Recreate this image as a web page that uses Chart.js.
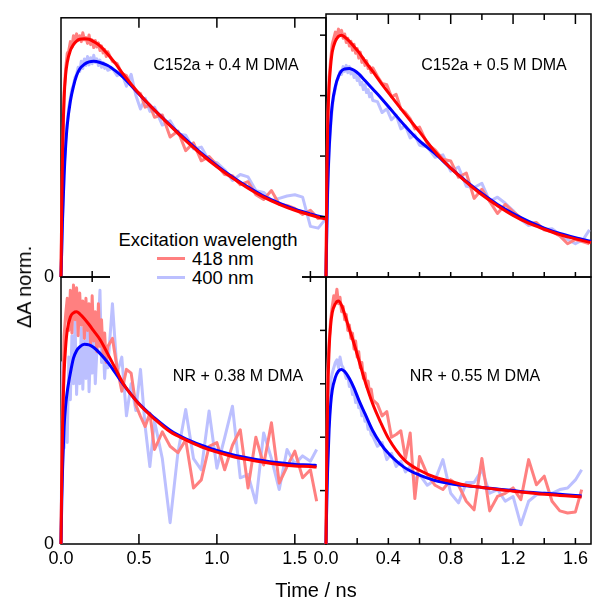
<!DOCTYPE html>
<html>
<head>
<meta charset="utf-8">
<title>Transient absorption kinetics</title>
<script src="https://cdn.jsdelivr.net/npm/chart.js@4.4.1/dist/chart.umd.min.js"></script>
<style>
  html, body { margin: 0; padding: 0; background: #fff; }
  #wrap { position: relative; width: 592px; height: 599px; overflow: hidden;
          font-family: "Liberation Sans", Arial, Helvetica, sans-serif; color: #000; }
  #wrap canvas { position: absolute; left: 0; top: 0; }
  .lbl { position: absolute; white-space: nowrap; line-height: 1; }
  .mid { transform: translateX(-50%); }
  .note { font-size: 16px; }
  #legend { position: absolute; left: 110px; top: 228px; width: 192px; height: 60px; background: #fff; }
  .swatch { position: absolute; left: 157px; width: 28px; height: 3px; }
</style>
</head>
<body>
<div id="wrap">
  <canvas id="pA" width="592" height="599"></canvas>
  <canvas id="pB" width="592" height="599"></canvas>
  <canvas id="pC" width="592" height="599"></canvas>
  <canvas id="pD" width="592" height="599"></canvas>

  <div class="lbl mid note" style="left:226px; top:57px;">C152a + 0.4 M DMA</div>
  <div class="lbl mid note" style="left:494px; top:57px;">C152a + 0.5 M DMA</div>
  <div class="lbl mid note" style="left:238px; top:368px;">NR + 0.38 M DMA</div>
  <div class="lbl mid note" style="left:475px; top:368px;">NR + 0.55 M DMA</div>

  <div id="legend"></div>
  <div class="lbl mid" style="left:208px; top:231px; font-size:18.5px;">Excitation wavelength</div>
  <div class="swatch" style="top:257px; background:#ff8080;"></div>
  <div class="lbl" style="left:192px; top:250px; font-size:18.5px;">418 nm</div>
  <div class="swatch" style="top:276px; background:#bcc0ff;"></div>
  <div class="lbl" style="left:192px; top:269px; font-size:18.5px;">400 nm</div>

  <div class="lbl mid" style="left:316px; top:580px; font-size:20px;">Time / ns</div>
  <div class="lbl" style="left:24px; top:287px; font-size:20px; transform: translate(-50%, -50%) rotate(-90deg);">ΔA norm.</div>
</div>

<script>
// time axes (ns)
const tFitTop = [0, 0.005, 0.01, 0.02, 0.03, 0.04, 0.06, 0.08, 0.10, 0.12,
                 0.15, 0.18, 0.21, 0.25, 0.30, 0.35, 0.40, 0.50, 0.60, 0.70,
                 0.80, 0.90, 1.00, 1.10, 1.20, 1.30, 1.40, 1.50, 1.60, 1.70];
const tFitBot = [0, 0.005, 0.01, 0.02, 0.03, 0.04, 0.06, 0.08, 0.10, 0.12,
                 0.15, 0.18, 0.21, 0.25, 0.30, 0.35, 0.40, 0.50, 0.60, 0.70,
                 0.80, 0.90, 1.00, 1.10, 1.20, 1.30, 1.40, 1.50, 1.60, 1.64];
const tRawTop = [0, 0.01, 0.02, 0.03, 0.04, 0.05, 0.06, 0.07, 0.08, 0.09,
                 0.10, 0.11, 0.12, 0.13, 0.14, 0.15, 0.16, 0.17, 0.18, 0.19,
                 0.20, 0.21, 0.22, 0.23, 0.24, 0.25, 0.26, 0.27, 0.28, 0.29,
                 0.30, 0.33, 0.36, 0.39, 0.42, 0.45, 0.48, 0.51, 0.54, 0.57,
                 0.60, 0.65, 0.70, 0.75, 0.80, 0.85, 0.90, 0.95, 1.00, 1.05,
                 1.10, 1.15, 1.20, 1.25, 1.30, 1.35, 1.40, 1.45, 1.50, 1.55,
                 1.60, 1.65, 1.69];
const tRawBot = [0, 0.01, 0.02, 0.03, 0.04, 0.05, 0.06, 0.07, 0.08, 0.09,
                 0.10, 0.11, 0.12, 0.13, 0.14, 0.15, 0.16, 0.17, 0.18, 0.19,
                 0.20, 0.21, 0.22, 0.23, 0.24, 0.25, 0.26, 0.27, 0.28, 0.29,
                 0.30, 0.33, 0.36, 0.39, 0.42, 0.45, 0.48, 0.51, 0.54, 0.57,
                 0.60, 0.65, 0.70, 0.75, 0.80, 0.85, 0.90, 0.95, 1.00, 1.05,
                 1.10, 1.15, 1.20, 1.25, 1.30, 1.35, 1.40, 1.45, 1.50, 1.55,
                 1.60, 1.64];

// tick labels
const xTicksLeft = [0, 0.5, 1.0, 1.5];
const xTicksRight = [0, 0.4, 0.8, 1.2, 1.6];
const xMinorRight = [0.2, 0.4, 0.6, 0.8, 1.0, 1.2, 1.4, 1.6];
const yTicksRight = [1, 2, 3, 4];

// C152a + 0.4 M DMA
const fitA418 = [0, 1.2, 2.1, 3.0, 3.4, 3.6, 3.8, 3.9, 3.96, 3.99,
                 4.0, 3.99, 3.95, 3.88, 3.74, 3.58, 3.40, 3.08, 2.80, 2.54,
                 2.29, 2.06, 1.85, 1.66, 1.49, 1.34, 1.22, 1.12, 1.04, 0.97];
const fitA400 = [0, 0.5, 1.0, 1.7, 2.2, 2.55, 2.95, 3.2, 3.38, 3.49,
                 3.57, 3.61, 3.62, 3.60, 3.55, 3.46, 3.35, 3.07, 2.80, 2.55,
                 2.31, 2.08, 1.87, 1.68, 1.51, 1.36, 1.24, 1.14, 1.06, 0.99];
const rawA418 = [0, 1.9, 3.1, 3.5, 3.75, 3.8, 3.95, 3.85, 4.05, 3.95,
                 4.08, 3.98, 4.05, 3.95, 4.1, 3.98, 4.02, 3.92, 4.06, 3.9,
                 3.98, 3.85, 3.97, 3.86, 3.93, 3.8, 3.88, 3.76, 3.82, 3.7,
                 3.78, 3.62, 3.58, 3.42, 3.38, 3.22, 3.12, 3.08, 2.85, 2.88,
                 2.68, 2.72, 2.35, 2.45, 2.12, 2.25, 1.95, 2.02, 1.88, 1.72,
                 1.70, 1.55, 1.60, 1.38, 1.30, 1.45, 1.22, 1.20, 1.15, 1.05,
                 1.12, 0.98, 1.0];
const rawA400 = [0, 0.9, 1.8, 2.3, 2.6, 2.85, 3.0, 3.15, 3.22, 3.35,
                 3.4, 3.52, 3.45, 3.62, 3.5, 3.66, 3.55, 3.7, 3.56, 3.68,
                 3.58, 3.72, 3.6, 3.66, 3.55, 3.64, 3.52, 3.6, 3.5, 3.56,
                 3.47, 3.5, 3.38, 3.42, 3.2, 3.4, 3.05, 2.82, 3.0, 2.78,
                 2.85, 2.55, 2.62, 2.4, 2.38, 2.15, 2.18, 1.95, 1.92, 1.8,
                 1.62, 1.72, 1.68, 1.45, 1.42, 1.28, 1.32, 1.36, 1.38, 1.34,
                 0.85, 0.82, 0.95];

// C152a + 0.5 M DMA
const fitB418 = [0, 1.5, 2.4, 3.15, 3.5, 3.72, 3.9, 3.98, 4.0, 3.97,
                 3.9, 3.81, 3.72, 3.57, 3.40, 3.22, 3.05, 2.72, 2.40, 2.07,
                 1.80, 1.57, 1.36, 1.18, 1.02, 0.89, 0.79, 0.70, 0.63, 0.57];
const fitB400 = [0, 0.8, 1.4, 2.1, 2.55, 2.85, 3.15, 3.32, 3.41, 3.44,
                 3.45, 3.42, 3.36, 3.25, 3.11, 2.97, 2.82, 2.52, 2.25, 2.04,
                 1.80, 1.58, 1.38, 1.20, 1.05, 0.92, 0.81, 0.72, 0.65, 0.59];
const rawB418 = [0, 2.5, 3.3, 3.6, 3.85, 3.95, 4.05, 3.98, 4.1, 4.0,
                 4.08, 3.95, 4.02, 3.88, 3.95, 3.82, 3.9, 3.75, 3.85, 3.7,
                 3.78, 3.62, 3.72, 3.55, 3.62, 3.5, 3.58, 3.45, 3.48, 3.38,
                 3.46, 3.32, 3.2, 3.18, 2.98, 3.02, 2.78, 2.72, 2.62, 2.45,
                 2.48, 2.2, 2.1, 1.95, 1.92, 1.65, 1.72, 1.3, 1.45, 1.25,
                 1.05, 1.2, 1.08, 0.98, 0.88, 0.9, 0.78, 0.75, 0.68, 0.55,
                 0.62, 0.58, 0.55];
const rawB400 = [0, 1.3, 2.1, 2.5, 2.8, 3.0, 3.12, 3.25, 3.3, 3.4,
                 3.35, 3.48, 3.4, 3.5, 3.38, 3.48, 3.36, 3.42, 3.3, 3.38,
                 3.25, 3.3, 3.18, 3.22, 3.1, 3.18, 3.05, 3.1, 2.98, 3.04,
                 2.92, 2.9, 2.72, 2.78, 2.6, 2.68, 2.45, 2.5, 2.3, 2.35,
                 2.18, 2.15, 1.98, 2.02, 1.75, 1.82, 1.5, 1.48, 1.55, 1.25,
                 1.32, 1.22, 1.1, 0.95, 0.85, 0.88, 0.78, 0.8, 0.7, 0.62,
                 0.55, 0.62, 0.78];

// NR + 0.38 M DMA
const fitC418 = [0, 1.3, 2.2, 3.2, 3.7, 4.0, 4.25, 4.33, 4.35, 4.31,
                 4.22, 4.11, 3.99, 3.83, 3.56, 3.28, 3.0, 2.62, 2.34, 2.10,
                 1.95, 1.82, 1.72, 1.64, 1.58, 1.53, 1.49, 1.46, 1.45, 1.44];
const fitC400 = [0, 0.8, 1.4, 2.2, 2.6, 2.85, 3.2, 3.48, 3.62, 3.69,
                 3.74, 3.73, 3.68, 3.57, 3.40, 3.20, 2.99, 2.63, 2.36, 2.13,
                 1.97, 1.85, 1.75, 1.67, 1.61, 1.56, 1.52, 1.49, 1.48, 1.47];
const rawC418 = [0, 2.6, 3.9, 4.3, 4.6, 4.0, 4.75, 3.95, 4.85, 4.2,
                 4.8, 3.9, 4.7, 4.1, 4.55, 3.85, 4.6, 4.0, 4.5, 3.75,
                 4.65, 3.8, 4.35, 3.6, 4.5, 3.7, 4.2, 3.55, 3.95, 3.4,
                 3.7, 3.85, 3.3, 2.86, 3.27, 3.2, 2.6, 2.39, 2.2, 2.45,
                 1.77, 2.1, 1.83, 1.71, 1.95, 1.05, 1.2, 1.83, 1.9, 1.39,
                 1.85, 2.14, 1.05, 2.0, 1.48, 2.27, 1.14, 1.45, 1.74, 1.24,
                 1.39, 0.8];
const rawC400 = [0, 3.4, 1.8, 2.6, 1.9, 3.5, 2.7, 3.9, 3.0, 4.2,
                 2.8, 3.6, 3.0, 4.05, 2.9, 3.8, 3.1, 4.3, 2.85, 3.7,
                 3.2, 3.95, 3.0, 3.6, 4.1, 4.75, 3.4, 3.8, 3.1, 3.6,
                 3.3, 4.5, 3.2, 3.5, 2.4, 3.0, 2.5, 3.27, 2.2, 1.45,
                 2.3, 1.6, 0.4, 1.71, 2.52, 1.6, 1.39, 2.49, 1.42, 1.99,
                 2.58, 1.24, 1.3, 0.77, 2.08, 1.6, 1.02, 1.77, 1.5, 1.65,
                 1.55, 1.77];

// NR + 0.55 M DMA
const fitD418 = [0, 1.6, 2.6, 3.65, 4.1, 4.33, 4.5, 4.55, 4.47, 4.3,
                 4.02, 3.75, 3.45, 3.05, 2.62, 2.28, 1.98, 1.58, 1.38, 1.25,
                 1.17, 1.10, 1.06, 1.02, 0.99, 0.96, 0.93, 0.91, 0.89, 0.88];
const fitD400 = [0, 0.8, 1.35, 2.15, 2.62, 2.88, 3.12, 3.24, 3.27, 3.23,
                 3.10, 2.92, 2.70, 2.44, 2.12, 1.88, 1.70, 1.44, 1.29, 1.19,
                 1.13, 1.09, 1.06, 1.03, 1.00, 0.97, 0.95, 0.93, 0.91, 0.90];
const rawD418 = [0, 3.2, 3.8, 4.2, 4.45, 4.65, 4.55, 4.77, 4.5, 4.62,
                 4.35, 4.45, 4.2, 4.3, 4.0, 4.1, 3.85, 3.95, 3.65, 3.8,
                 3.5, 3.6, 3.3, 3.4, 3.1, 3.2, 2.95, 3.05, 2.8, 2.9,
                 2.7, 2.62, 2.4, 2.48, 2.0, 2.05, 2.12, 1.6, 2.08, 0.85,
                 1.64, 1.3, 1.1, 1.02, 1.2, 1.1, 0.8, 0.64, 1.6, 0.62,
                 0.89, 0.95, 1.05, 0.83, 1.58, 1.11, 1.27, 0.8, 0.62, 0.58,
                 0.6, 1.02];
const rawD400 = [0, 1.6, 2.5, 3.05, 3.2, 3.3, 3.4, 3.45, 3.3, 3.5,
                 3.35, 3.3, 3.2, 3.1, 3.15, 2.95, 3.0, 2.8, 2.85, 2.65,
                 2.75, 2.55, 2.6, 2.4, 2.5, 2.3, 2.35, 2.15, 2.2, 2.05,
                 2.02, 1.83, 1.9, 1.58, 1.7, 1.45, 1.55, 1.35, 1.45, 1.2,
                 1.3, 1.1, 1.2, 1.58, 0.95, 0.77, 1.15, 1.15, 1.39, 0.95,
                 1.02, 0.8, 0.89, 0.36, 0.8, 0.92, 0.95, 0.95, 1.02, 1.05,
                 1.2, 1.39];

const FONT = '"Liberation Sans", Arial, Helvetica, sans-serif';
const W = 592, H = 599;

function pts(t, v) {
  return t.map((x, i) => ({ x: x, y: v[i] }));
}

// box around the plot area plus the little tick marks
const framePlugin = {
  id: 'frame',
  beforeDatasetsDraw(chart, args, opts) {
    const { ctx, chartArea: a, scales } = chart;
    ctx.save();
    ctx.strokeStyle = '#000';
    ctx.lineWidth = 1.5;
    ctx.strokeRect(a.left, a.top, a.right - a.left, a.bottom - a.top);
    (opts.marks || []).forEach(m => {
      m.values.forEach(v => {
        const len = (m.major && m.major.includes(v)) ? m.majorLen : m.len;
        ctx.beginPath();
        if (m.side === 'top') {
          const x = scales.x.getPixelForValue(v);
          ctx.moveTo(x, a.top);
          ctx.lineTo(x, a.top + len);
        } else if (m.side === 'bottom') {
          const x = scales.x.getPixelForValue(v);
          ctx.moveTo(x, a.bottom + (m.cross || 0));
          ctx.lineTo(x, a.bottom - len);
        } else {
          const y = scales.y.getPixelForValue(v);
          ctx.moveTo(a.left, y);
          ctx.lineTo(a.left - len, y);
        }
        ctx.stroke();
      });
    });
    ctx.restore();
  }
};

function makePanel(id, p) {
  const showX = !!p.xLabels;
  const showY = !!p.zeroLabel;
  const yW = 40, xH = 30;
  new Chart(document.getElementById(id), {
    type: 'line',
    data: {
      datasets: [
        { label: 'fit 418 nm', data: pts(p.tFit, p.fit418), borderColor: '#ff0000', borderWidth: 3, cubicInterpolationMode: 'monotone', clip: 3 },
        { label: 'fit 400 nm', data: pts(p.tFit, p.fit400), borderColor: '#0000ff', borderWidth: 3, cubicInterpolationMode: 'monotone', clip: 3 },
        { label: '418 nm', data: pts(p.tRaw, p.raw418), borderColor: '#ff8080', borderWidth: 3, clip: 3 },
        { label: '400 nm', data: pts(p.tRaw, p.raw400), borderColor: '#bcc0ff', borderWidth: 3, clip: 3 }
      ]
    },
    options: {
      responsive: false,
      animation: false,
      devicePixelRatio: 1,
      layout: {
        padding: {
          left: p.area[0] - (showY ? yW : 0),
          top: p.area[1],
          right: W - p.area[2],
          bottom: H - p.area[3] - (showX ? xH : 0)
        }
      },
      elements: {
        point: { radius: 0 },
        line: { tension: 0, fill: false, borderJoinStyle: 'round' }
      },
      plugins: {
        legend: { display: false },
        tooltip: { enabled: false },
        frame: { marks: p.marks }
      },
      scales: {
        x: {
          type: 'linear', min: 0, max: 1.7,
          display: showX,
          grid: { display: false, drawTicks: false },
          border: { display: false },
          afterBuildTicks: s => { if (p.xLabels) s.ticks = p.xLabels.map(v => ({ value: v })); },
          afterFit: s => { s.height = showX ? xH : 0; },
          ticks: {
            padding: 4, color: '#000', maxRotation: 0, autoSkip: false,
            font: { family: FONT, size: 18 },
            callback: v => Number(v).toFixed(1)
          }
        },
        y: {
          type: 'linear', min: 0, max: p.yMax,
          display: showY,
          grid: { display: false, drawTicks: false },
          border: { display: false },
          afterBuildTicks: s => { s.ticks = [{ value: 0 }]; },
          afterFit: s => { s.width = showY ? yW : 0; },
          ticks: {
            padding: 7, color: '#000',
            font: { family: FONT, size: 18 },
            callback: v => String(v)
          }
        }
      }
    },
    plugins: [framePlugin]
  });
}

makePanel('pA', {
  area: [61, 14, 326, 277], yMax: 4.35, zeroLabel: true,
  tFit: tFitTop, fit418: fitA418, fit400: fitA400,
  tRaw: tRawTop, raw418: rawA418, raw400: rawA400,
  marks: [
    { side: 'top', values: [0.5, 1.0, 1.5], len: 10 },
    { side: 'bottom', values: xMinorRight, len: 6, cross: 5 }
  ]
});

makePanel('pB', {
  area: [326, 14, 591, 277], yMax: 4.35,
  tFit: tFitTop, fit418: fitB418, fit400: fitB400,
  tRaw: tRawTop, raw418: rawB418, raw400: rawB400,
  marks: [
    { side: 'top', values: xMinorRight, len: 6, major: [0.4, 0.8, 1.2, 1.6], majorLen: 10 },
    { side: 'bottom', values: xMinorRight, len: 5 },
    { side: 'left', values: yTicksRight, len: 6 }
  ]
});

makePanel('pC', {
  area: [61, 277, 326, 544], yMax: 5, zeroLabel: true, xLabels: xTicksLeft,
  tFit: tFitBot, fit418: fitC418, fit400: fitC400,
  tRaw: tRawBot, raw418: rawC418, raw400: rawC400,
  marks: [
    { side: 'bottom', values: [0.5, 1.0, 1.5], len: 10 }
  ]
});

makePanel('pD', {
  area: [326, 277, 591, 544], yMax: 5, xLabels: xTicksRight,
  tFit: tFitBot, fit418: fitD418, fit400: fitD400,
  tRaw: tRawBot, raw418: rawD418, raw400: rawD400,
  marks: [
    { side: 'bottom', values: xMinorRight, len: 6 },
    { side: 'left', values: yTicksRight, len: 6 }
  ]
});
</script>
</body>
</html>
